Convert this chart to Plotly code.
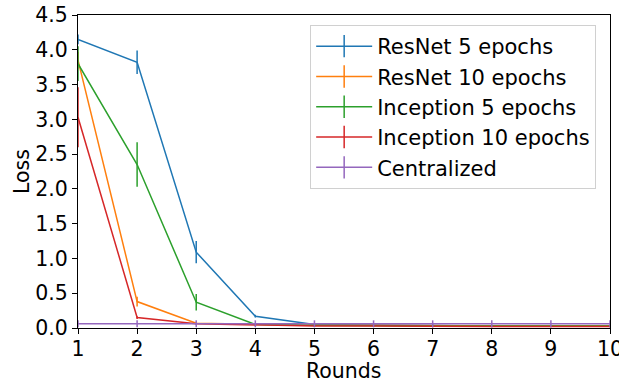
import plotly.graph_objects as go

rounds = [1, 2, 3, 4, 5, 6, 7, 8, 9, 10]

resnet5 = [4.15, 3.82, 1.09, 0.17, 0.05, 0.04, 0.04, 0.03, 0.03, 0.03]
resnet5_err = [0.07, 0.17, 0.16, 0.02, 0.01, 0.01, 0.01, 0.01, 0.01, 0.01]

resnet10 = [3.85, 0.38, 0.07, 0.05, 0.04, 0.04, 0.03, 0.03, 0.03, 0.03]
resnet10_err = [0.12, 0.07, 0.02, 0.01, 0.01, 0.01, 0.01, 0.01, 0.01, 0.01]

incep5 = [3.80, 2.35, 0.37, 0.05, 0.04, 0.03, 0.03, 0.03, 0.03, 0.03]
incep5_err = [0.25, 0.32, 0.12, 0.01, 0.01, 0.01, 0.01, 0.01, 0.01, 0.01]

incep10 = [3.03, 0.15, 0.06, 0.04, 0.03, 0.03, 0.02, 0.02, 0.02, 0.02]
incep10_err = [0.43, 0.02, 0.01, 0.01, 0.01, 0.01, 0.01, 0.01, 0.01, 0.01]

central = [0.06, 0.06, 0.06, 0.06, 0.06, 0.06, 0.06, 0.06, 0.06, 0.06]
central_err = [0.05, 0.05, 0.05, 0.05, 0.05, 0.05, 0.05, 0.05, 0.05, 0.05]

names = ["ResNet 5 epochs", "ResNet 10 epochs", "Inception 5 epochs",
         "Inception 10 epochs", "Centralized"]
colors = ["#1f77b4", "#ff7f0e", "#2ca02c", "#d62728", "#9467bd"]
series = [(resnet5, resnet5_err), (resnet10, resnet10_err), (incep5, incep5_err),
          (incep10, incep10_err), (central, central_err)]

fig = go.Figure()
for name, color, (vals, errs) in zip(names, colors, series):
    fig.add_trace(go.Scatter(
        x=rounds, y=vals, mode="lines", name=name, showlegend=False,
        line=dict(color=color, width=1.5),
        error_y=dict(type="data", array=errs, visible=True, color=color,
                     thickness=1.5, width=0),
    ))
for name, color in zip(names, colors):
    fig.add_trace(go.Scatter(
        x=[None], y=[None], mode="lines+markers", name=name,
        line=dict(color=color, width=1.5),
        marker=dict(symbol="line-ns-open", size=20, color=color,
                    line=dict(color=color, width=1.5)),
    ))

FS = 20.5
axis_common = dict(
    showline=True, linecolor="black", linewidth=1.2, mirror=True,
    ticks="outside", ticklen=5, tickwidth=1.2, tickcolor="black",
    showgrid=False, zeroline=False, automargin=False,
    ticklabeloverflow="allow",
    tickfont=dict(family="DejaVu Sans", size=FS, color="black"),
)

fig.update_layout(
    width=619, height=382,
    margin=dict(l=78, r=9, t=15, b=54),
    plot_bgcolor="white", paper_bgcolor="white",
    font=dict(family="DejaVu Sans", size=FS, color="black"),
    xaxis=dict(range=[1, 10], tickvals=rounds, ticklabelstandoff=-3, **axis_common),
    yaxis=dict(range=[0, 4.5], dtick=0.5, tickformat=".1f",
               title=dict(text="Loss", standoff=0, font=dict(size=FS)), **axis_common),
    legend=dict(x=0.974, y=0.968, xanchor="right", yanchor="top",
                bgcolor="rgba(255,255,255,0.8)", bordercolor="#d0d0d0", borderwidth=1,
                font=dict(family="DejaVu Sans", size=21), tracegroupgap=0,
                itemwidth=56),
    annotations=[dict(text="Rounds", x=0.5, y=-0.137, xref="paper", yref="paper",
                      xanchor="center", yanchor="middle", showarrow=False,
                      font=dict(family="DejaVu Sans", size=FS, color="black"))],
)

fig.write_html("out.html", config={"displayModeBar": False},
               post_script="document.body.style.margin='0';")
